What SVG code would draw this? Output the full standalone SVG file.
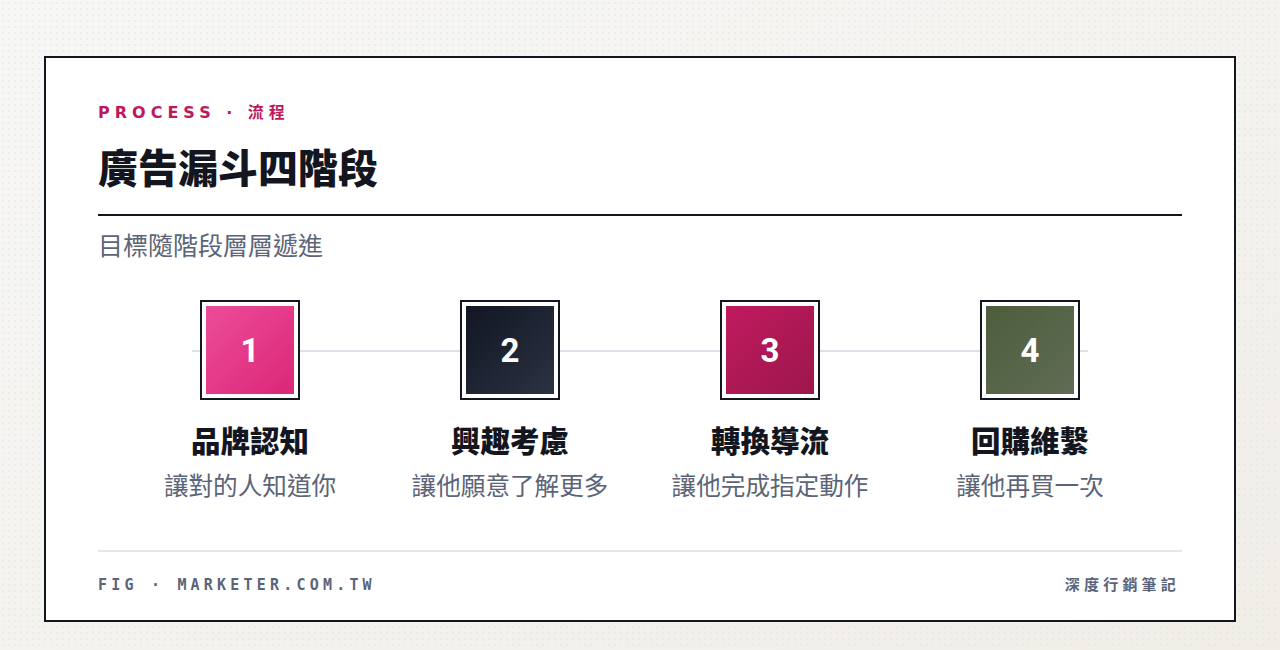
<svg xmlns="http://www.w3.org/2000/svg" width="1280" height="650" viewBox="0 0 1280 650">
<defs>
<pattern id="dots" width="6" height="6" patternUnits="userSpaceOnUse"><circle cx="3" cy="3" r="0.8" fill="#e2e1dc"/></pattern>
<linearGradient id="bg" x1="0" y1="0" x2="1" y2="1"><stop offset="0" stop-color="#f7f7f6"/><stop offset="1" stop-color="#f1eee8"/></linearGradient>
<linearGradient id="g1" x1="0" y1="0" x2="1" y2="1"><stop offset="0" stop-color="#ec4c9a"/><stop offset="1" stop-color="#db2777"/></linearGradient>
<linearGradient id="g2" x1="0" y1="0" x2="1" y2="1"><stop offset="0" stop-color="#121622"/><stop offset="1" stop-color="#2b3243"/></linearGradient>
<linearGradient id="g3" x1="0" y1="0" x2="1" y2="1"><stop offset="0" stop-color="#c01a5e"/><stop offset="1" stop-color="#9c174c"/></linearGradient>
<linearGradient id="g4" x1="0" y1="0" x2="1" y2="1"><stop offset="0" stop-color="#4d5d3b"/><stop offset="1" stop-color="#606c55"/></linearGradient>
<style>
.frame{fill:#fff;stroke:#14161f;stroke-width:2}
.num{font-family:Roboto,"Liberation Sans",sans-serif;font-weight:700;font-size:33px;fill:#fff;text-anchor:middle}
.lbl{font-family:"Noto Sans CJK TC",sans-serif;font-weight:900;font-size:29.5px;fill:#14161f;text-anchor:middle}
.desc{font-family:"Noto Sans CJK TC",sans-serif;font-size:24.6px;fill:#5b6478;text-anchor:middle}
.mono{font-family:"DejaVu Sans Mono","Liberation Mono","Noto Sans CJK TC",monospace;font-weight:700;font-size:15px;letter-spacing:4.2px;fill:#5b6478}
</style>
</defs>
<rect width="1280" height="650" fill="url(#bg)"/>
<rect width="1280" height="650" fill="url(#dots)"/>
<rect x="45" y="57" width="1190" height="564" fill="#fff" stroke="#14161f" stroke-width="2"/>
<text x="98" y="118" font-family="'DejaVu Sans','Noto Sans CJK TC',sans-serif" font-weight="700" font-size="16" letter-spacing="5" fill="#be185d">PROCESS · 流程</text>
<text x="98" y="183" font-family="'Noto Sans CJK TC',sans-serif" font-weight="900" font-size="40" fill="#14161f">廣告漏斗四階段</text>
<line x1="98" y1="215" x2="1182" y2="215" stroke="#14161f" stroke-width="2"/>
<text x="98" y="255" font-family="'Noto Sans CJK TC',sans-serif" font-size="25" fill="#5b6478">目標隨階段層層遞進</text>
<g id="connectors"><line x1="192" y1="351" x2="1088" y2="351" stroke="#dde0e6" stroke-width="2"/></g>
<g id="node1"><rect class="frame" x="201" y="301" width="98" height="98"/><rect x="206" y="306" width="88" height="88" fill="url(#g1)"/><text class="num" x="250" y="362">1</text><text class="lbl" x="250" y="452">品牌認知</text><text class="desc" x="250" y="495">讓對的人知道你</text></g>
<g id="node2"><rect class="frame" x="461" y="301" width="98" height="98"/><rect x="466" y="306" width="88" height="88" fill="url(#g2)"/><text class="num" x="510" y="362">2</text><text class="lbl" x="510" y="452">興趣考慮</text><text class="desc" x="510" y="495">讓他願意了解更多</text></g>
<g id="node3"><rect class="frame" x="721" y="301" width="98" height="98"/><rect x="726" y="306" width="88" height="88" fill="url(#g3)"/><text class="num" x="770" y="362">3</text><text class="lbl" x="770" y="452">轉換導流</text><text class="desc" x="770" y="495">讓他完成指定動作</text></g>
<g id="node4"><rect class="frame" x="981" y="301" width="98" height="98"/><rect x="986" y="306" width="88" height="88" fill="url(#g4)"/><text class="num" x="1030" y="362">4</text><text class="lbl" x="1030" y="452">回購維繫</text><text class="desc" x="1030" y="495">讓他再買一次</text></g>
<line x1="98" y1="551" x2="1182" y2="551" stroke="#e5e7eb" stroke-width="2"/>
<text class="mono" x="98" y="590">FIG · MARKETER.COM.TW</text>
<text class="mono" x="1180" y="590" text-anchor="end" font-weight="500" font-size="16.5" letter-spacing="3.8">深度行銷筆記</text>
</svg>
